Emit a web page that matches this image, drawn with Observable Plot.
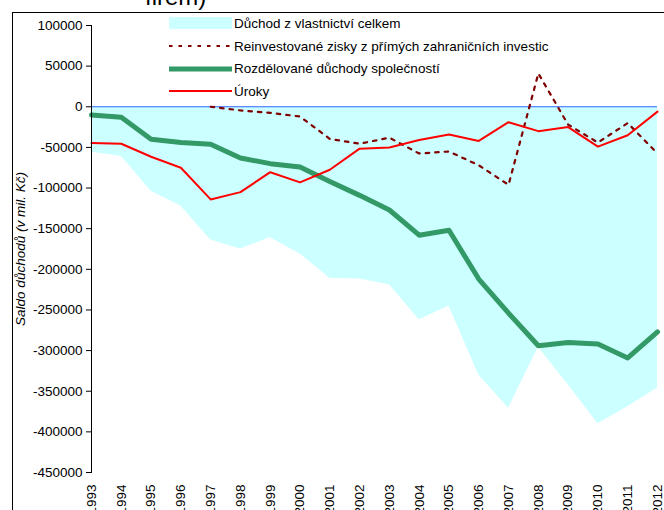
<!DOCTYPE html>
<html><head><meta charset="utf-8">
<script src="https://cdn.jsdelivr.net/npm/d3@7"></script>
<script src="https://cdn.jsdelivr.net/npm/@observablehq/plot@0.6"></script>
<style>
body{margin:0;background:#fff;font-family:"Liberation Sans",Arial,sans-serif}
#wrap{position:relative;width:664px;height:510px;overflow:hidden;background:#fff}
#frame{position:absolute;left:12px;top:12px;right:-5px;bottom:-5px;border-top:1px solid #000;border-left:1px solid #000;pointer-events:none}
#title{position:absolute;left:145px;top:-15px;font-size:24px;line-height:24px;white-space:nowrap;color:#000}
#chart{position:absolute;left:0;top:0}
.lg{position:absolute;left:169px;height:16px;display:flex;align-items:center;font-size:13.5px;color:#000;white-space:nowrap}
.lg svg{margin-right:2px}
</style></head>
<body>
<div id="wrap">
  <div id="title">firem)</div>
  <div id="chart"></div>
  <div id="frame"></div>
  <div id="legend"></div>
</div>
<script>
const years = [1993,1994,1995,1996,1997,1998,1999,2000,2001,2002,2003,2004,2005,2006,2007,2008,2009,2010,2011,2012];
const total = [-56000,-61000,-104000,-122000,-164000,-175000,-161000,-181000,-211000,-212000,-219000,-262000,-245000,-330000,-371000,-296000,-342000,-390000,-369000,-346000];
const reinvested = [null,null,null,null,0,-4500,-7500,-12000,-39500,-45500,-38000,-57500,-55000,-72000,-96000,41000,-22000,-44000,-20000,-57500];
const distributed = [-10000,-13000,-40000,-44000,-46000,-63000,-70000,-74000,-92000,-109000,-127000,-158000,-152000,-212000,-254000,-294000,-290000,-292000,-309000,-277000];
const interest = [-44500,-45500,-61500,-75000,-114000,-105000,-80500,-93000,-77500,-51500,-50000,-41000,-34000,-42000,-19000,-30000,-25000,-49000,-35000,-6000];
const seriesNames = ["Důchod z vlastnictví celkem","Reinvestované zisky z přímých zahraničních investic","Rozdělované důchody společností","Úroky"];
const yTicks = d3.range(-450000, 100001, 50000);
const yLabel = "Saldo důchodů (v mil. Kč)";

const rows = years.map((year, i) => ({year, total: total[i], reinvested: reinvested[i], distributed: distributed[i], interest: interest[i]}));

const chart = Plot.plot({
  width: 664, height: 510,
  marginLeft: 91, marginRight: 7, marginTop: 25, marginBottom: 38,
  style: {fontFamily: "'Liberation Sans', Arial, sans-serif", fontSize: "13.5px", color: "#000", background: "transparent"},
  x: {type: "linear", domain: [1993, 2012]},
  y: {domain: [-450000, 100000]},
  marks: [
    Plot.areaY(rows, {x: "year", y: "total", fill: "#ccffff"}),
    Plot.ruleY([0], {stroke: "#3366ff", strokeWidth: 1.2}),
    Plot.line(rows.filter(d => d.reinvested != null), {x: "year", y: "reinvested", stroke: "#800000", strokeWidth: 2.2, strokeDasharray: "3.5,6"}),
    Plot.line(rows, {x: "year", y: "distributed", stroke: "#339966", strokeWidth: 5}),
    Plot.line(rows, {x: "year", y: "interest", stroke: "#ff0000", strokeWidth: 2}),
    Plot.frame({anchor: "left", stroke: "#000"}),
    Plot.axisY({ticks: yTicks, tickSize: 5, tickPadding: 4, tickFormat: d => String(d), label: null, fontSize: 13.5}),
    Plot.axisX({ticks: years, tickFormat: d => String(d), tickSize: 0, tickPadding: 12, tickRotate: -90, label: null, fontSize: 13.5}),
    Plot.text([yLabel], {frameAnchor: "left", textAnchor: "middle", dx: -71, rotate: -90, fontStyle: "italic", fontSize: 13.5, fill: "#000"})
  ]
});
document.getElementById("chart").appendChild(chart);

// legend
const legend = document.getElementById("legend");
const centers = [23, 46, 68.5, 91];
const samples = [
  '<rect x="0" y="0" width="63" height="12" fill="#ccffff"/>',
  '<line x1="0" x2="63" y1="6" y2="6" stroke="#800000" stroke-width="2.2" stroke-dasharray="3.5,6"/>',
  '<line x1="0" x2="63" y1="6" y2="6" stroke="#339966" stroke-width="5"/>',
  '<line x1="0" x2="63" y1="6" y2="6" stroke="#ff0000" stroke-width="2"/>'
];
seriesNames.forEach((name, i) => {
  const div = document.createElement("div");
  div.className = "lg";
  div.style.top = (centers[i] - 8) + "px";
  div.innerHTML = `<svg width="63" height="12">${samples[i]}</svg><span>${name}</span>`;
  legend.appendChild(div);
});
</script>
</body></html>
